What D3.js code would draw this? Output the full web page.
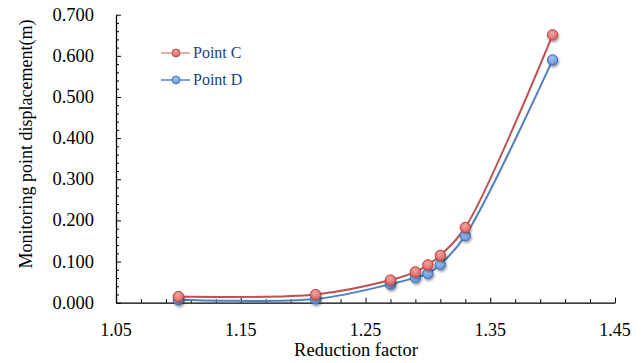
<!DOCTYPE html>
<html>
<head>
<meta charset="utf-8">
<script src="https://cdn.jsdelivr.net/npm/d3@7"></script>
<style>
  body { margin: 0; background: #fff; }
  svg { display: block; font-family: "Liberation Serif", "Times New Roman", serif; }
</style>
</head>
<body>
<svg id="chart"></svg>
<script>
const factors = [1.10, 1.21, 1.27, 1.29, 1.30, 1.31, 1.33, 1.40];
const pointC = [0.015, 0.020, 0.055, 0.075, 0.092, 0.115, 0.183, 0.651];
const pointD = [0.007, 0.009, 0.045, 0.061, 0.071, 0.093, 0.163, 0.590];
const xTicks = [1.05, 1.15, 1.25, 1.35, 1.45];
const yTicks = [0, 0.1, 0.2, 0.3, 0.4, 0.5, 0.6, 0.7];

const width = 643;
const height = 363;
const plotLeft = 116, plotRight = 615, plotTop = 14.7, plotBottom = 302.7;

const svg = d3.select("#chart").attr("width", width).attr("height", height);

const xScale = d3.scaleLinear().domain([1.05, 1.45]).range([plotLeft, plotRight]);
const yScale = d3.scaleLinear().domain([0, 0.7]).range([plotBottom, plotTop]);

const defs = svg.append("defs");
defs.append("filter").attr("id", "shadow")
  .attr("x", "-50%").attr("y", "-50%").attr("width", "200%").attr("height", "200%")
  .append("feDropShadow")
  .attr("dx", 1).attr("dy", 2).attr("stdDeviation", 1.3)
  .attr("flood-color", "#000").attr("flood-opacity", 0.35);

const series = [
  { name: "Point D", values: pointD, line: "#4F81BD", fill: ["#A9C6F0", "#5B8FDA"], stroke: "#3E6EB3", legendLine: "#6D97D6", ly: 80 },
  { name: "Point C", values: pointC, line: "#C0504D", fill: ["#F2A5A3", "#DE5F5C"], stroke: "#B04442", legendLine: "#E8A4A3", ly: 53 }
];

series.forEach((s, i) => {
  const g = defs.append("radialGradient").attr("id", "grad" + i)
    .attr("cx", "45%").attr("cy", "35%").attr("r", "65%");
  g.append("stop").attr("offset", "0%").attr("stop-color", s.fill[0]);
  g.append("stop").attr("offset", "100%").attr("stop-color", s.fill[1]);
  s.grad = "url(#grad" + i + ")";
});

// axes
const yAxis = d3.axisLeft(yScale)
  .tickValues(d3.range(0, 0.7001, 0.02))
  .tickSize(0).tickFormat("");
const yg = svg.append("g").attr("transform", `translate(${plotLeft},0)`).call(yAxis);
yg.select(".domain").attr("stroke", "#000").attr("stroke-width", 1.3);
yg.selectAll(".tick line")
  .attr("x2", (d, i) => (i % 5 === 0 ? 5 : 3))
  .attr("stroke", "#000").attr("stroke-width", 1);

const xAxis = d3.axisBottom(xScale)
  .tickValues(d3.range(1.05, 1.4501, 0.02))
  .tickSize(0).tickFormat("");
const xg = svg.append("g").attr("transform", `translate(0,${plotBottom})`).call(xAxis);
xg.select(".domain").attr("stroke", "#000").attr("stroke-width", 1.3);
xg.selectAll(".tick line")
  .attr("y2", (d, i) => (i % 5 === 0 ? -5 : -3.5))
  .attr("stroke", "#000").attr("stroke-width", 1);

// tick labels
svg.append("g").selectAll("text").data(yTicks).enter().append("text")
  .attr("x", 94).attr("y", d => yScale(d) + 6)
  .attr("text-anchor", "end").attr("font-size", 18.5).attr("fill", "#000")
  .text(d => d.toFixed(3));

svg.append("g").selectAll("text").data(xTicks).enter().append("text")
  .attr("x", d => xScale(d)).attr("y", 336)
  .attr("text-anchor", "middle").attr("font-size", 18).attr("fill", "#000")
  .text(d => d.toFixed(2));

// titles
svg.append("text")
  .attr("transform", "translate(32,144) rotate(-90)")
  .attr("text-anchor", "middle").attr("font-size", 18).attr("fill", "#000")
  .text("Monitoring point displacement(m)");

svg.append("text")
  .attr("x", 356).attr("y", 356)
  .attr("text-anchor", "middle").attr("font-size", 18.5).attr("fill", "#000")
  .text("Reduction factor");

// lines and markers
const line = d3.line()
  .x((d, i) => xScale(factors[i]))
  .y(d => yScale(d))
  .curve(d3.curveCatmullRom.alpha(0.5));

series.forEach(s => {
  svg.append("path").datum(s.values)
    .attr("d", line).attr("fill", "none")
    .attr("stroke", s.line).attr("stroke-width", 2);
});

series.forEach(s => {
  svg.append("g").selectAll("circle").data(s.values).enter().append("circle")
    .attr("cx", (d, i) => xScale(factors[i]))
    .attr("cy", d => yScale(d))
    .attr("r", 5.2)
    .attr("fill", s.grad).attr("stroke", s.stroke).attr("stroke-width", 1)
    .attr("filter", "url(#shadow)");
});

// legend
const legend = svg.append("g");
series.forEach(s => {
  legend.append("line")
    .attr("x1", 161).attr("x2", 190).attr("y1", s.ly).attr("y2", s.ly)
    .attr("stroke", s.legendLine).attr("stroke-width", 1.8);
  legend.append("circle")
    .attr("cx", 176).attr("cy", s.ly).attr("r", 4)
    .attr("fill", s.grad).attr("stroke", s.stroke).attr("stroke-width", 0.8);
  legend.append("text")
    .attr("x", 193).attr("y", s.ly + 5)
    .attr("font-size", 16).attr("fill", "#1F3F77")
    .text(s.name);
});
</script>
</body>
</html>
